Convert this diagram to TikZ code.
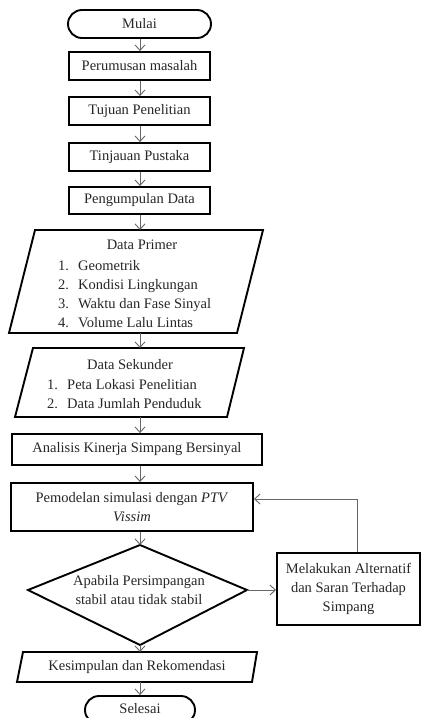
\documentclass[tikz,border=0pt]{standalone}
\usepackage{fontspec}
\setmainfont{Liberation Serif}
\usetikzlibrary{arrows.meta}
\begin{document}
\begin{tikzpicture}[x=1pt,y=-1pt,
  box/.style={draw=black,line width=1.9pt,rectangle,inner sep=0pt,font=\fontsize{14.5}{19}\selectfont,text=black!85,align=center},
  term/.style={box,rounded corners=14pt},
  shp/.style={draw=black,line width=1.9pt,line join=miter},
  txt/.style={font=\fontsize{14.5}{19}\selectfont,text=black!85,inner sep=0pt,align=center},
  lst/.style={txt,align=left},
  flow/.style={draw=black!60,line width=0.9pt,-{Straight Barb[length=5.5pt,width=10pt]}},
]
\useasboundingbox (0,0) rectangle (422,718);

% column and fixed points
\coordinate (col) at (140,0);

% start
\node[term,minimum width=143pt,minimum height=28pt] (mulai) at (139.5,24) {Mulai};
\node[box,minimum width=141pt,minimum height=28pt] (rum) at (139.5,66) {Perumusan masalah};
\node[box,minimum width=141pt,minimum height=28pt] (tuj) at (139.5,111) {Tujuan Penelitian};
\node[box,minimum width=141pt,minimum height=28pt] (tin) at (139.5,157) {Tinjauan Pustaka};
\node[box,minimum width=141pt,minimum height=27pt] (pen) at (139.5,200.5) {Pengumpulan Data};

% Data Primer
\draw[shp] (35,230) -- (263,230) -- (237,333) -- (9,333) -- cycle;
\coordinate (dpN) at (140,230);
\coordinate (dpS) at (140,333);
\node[txt] (dpt) at (142,245) {Data Primer};
\node[lst,anchor=west] (dpl) at (58,294) {\makebox[20pt][l]{1.}Geometrik\\\makebox[20pt][l]{2.}Kondisi Lingkungan\\\makebox[20pt][l]{3.}Waktu dan Fase Sinyal\\\makebox[20pt][l]{4.}Volume Lalu Lintas};

% Data Sekunder
\draw[shp] (33,348) -- (244,348) -- (227,417) -- (15,417) -- cycle;
\coordinate (dsN) at (140,348);
\coordinate (dsS) at (140,417);
\node[txt] (dst) at (130,365) {Data Sekunder};
\node[lst,anchor=west] (dsl) at (47,394) {\makebox[20pt][l]{1.}Peta Lokasi Penelitian\\\makebox[20pt][l]{2.}Data Jumlah Penduduk};

% Analisis
\node[box,minimum width=250pt,minimum height=31pt] (ana) at (137,449.5) {Analisis Kinerja Simpang Bersinyal};

% Pemodelan
\node[box,minimum width=242pt,minimum height=48pt] (pem) at (132,507) {Pemodelan simulasi dengan \textit{PTV}\\\textit{Vissim}};

% Decision
\coordinate (dT) at (140,545);
\coordinate (dL) at (28,590);
\coordinate (dB) at (140,645);
\coordinate (dR) at (247,590);
\draw[shp] (dT) -- (dR) -- (dB) -- (dL) -- cycle;
\node[txt] (dec) at (139,590) {Apabila Persimpangan\\stabil atau tidak stabil};

% Alternative
\node[box,minimum width=143pt,minimum height=72pt] (mel) at (348.5,589) {Melakukan Alternatif\\dan Saran Terhadap\\Simpang};
\coordinate (fb) at (357,499);

% Kesimpulan
\draw[shp] (23,652) -- (257,652) -- (252,682) -- (17,682) -- cycle;
\coordinate (kN) at (140,652);
\coordinate (kS) at (140,682);
\node[txt] (kes) at (137,667) {Kesimpulan dan Rekomendasi};

% end
\node[term,minimum width=110pt,minimum height=28pt] (sel) at (140,710) {};
\node[txt] (selt) at (140,709) {Selesai};

% connectors
\draw[flow] (mulai.south -| col) -- (rum.north -| col);
\draw[flow] (rum.south -| col) -- (tuj.north -| col);
\draw[flow] (tuj.south -| col) -- (tin.north -| col);
\draw[flow] (tin.south -| col) -- (pen.north -| col);
\draw[flow] (pen.south -| col) -- (dpN);
\draw[flow] (dpS) -- (dsN);
\draw[flow] (dsS) -- (ana.north -| col);
\draw[flow] (ana.south -| col) -- (pem.north -| col);
\draw[flow] (pem.south -| col) -- (dT);
\draw[flow] (dR) -- (dR -| mel.west);
\draw[flow] (mel.north -| fb) -- (fb) -- (fb -| pem.east);
\draw[flow] (dB) -- (kN);
\draw[flow] (kS) -- (sel.north -| col);
\end{tikzpicture}
\end{document}
